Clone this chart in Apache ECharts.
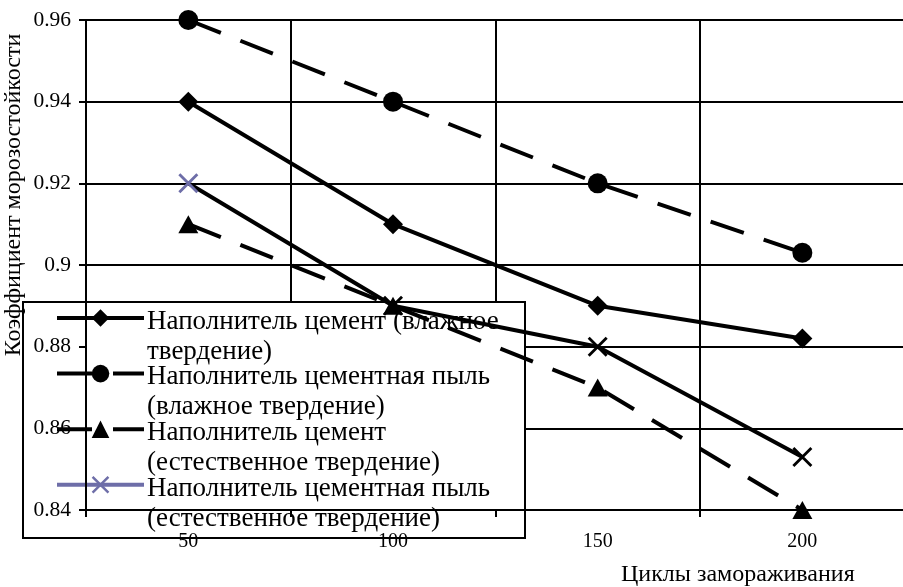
<!DOCTYPE html>
<html>
<head>
<meta charset="utf-8">
<script src="https://cdn.jsdelivr.net/npm/echarts@6/dist/echarts.min.js"></script>
<style>
  html, body { margin: 0; padding: 0; background: #fff; }
  #chart { width: 903px; height: 587px; }
</style>
</head>
<body>
<div id="chart"></div>
<script>
// Freeze-thaw cycles (category axis)
const cycles = ['50', '100', '150', '200'];

// Frost resistance coefficient per filler / curing mode
const cementWet = [0.94, 0.91, 0.89, 0.882];
const dustWet = [0.96, 0.94, 0.92, 0.903];
const cementNatural = [0.91, 0.89, 0.87, 0.84];
const dustNatural = [0.92, 0.89, 0.88, 0.853];

// Value axis range and step
const yMin = 0.84;
const yMax = 0.96;
const yStep = 0.02;

const seriesNames = [
  'Наполнитель цемент (влажное твердение)',
  'Наполнитель цементная пыль (влажное твердение)',
  'Наполнитель цемент (естественное твердение)',
  'Наполнитель цементная пыль (естественное твердение)'
];
// Legend captions wrapped on two lines
const legendLines = [
  ['Наполнитель цемент (влажное', 'твердение)'],
  ['Наполнитель цементная пыль', '(влажное твердение)'],
  ['Наполнитель цемент', '(естественное твердение)'],
  ['Наполнитель цементная пыль', '(естественное твердение)']
];

const FONT = '"Liberation Serif", "Times New Roman", serif';
const INK = '#000';
const VIOLET = '#6e6ea8';
const DASH = [35, 21];
const CROSS = 'path://M0,1L1,0L10,9L9,10Z M9,0L10,1L1,10L0,9Z';

const chart = echarts.init(document.getElementById('chart'), null, { renderer: 'canvas' });

const lineBase = {
  type: 'line',
  xAxisIndex: 0,
  yAxisIndex: 0,
  symbolSize: 20,
  z: 3,
  animation: false
};

const legendData = [
  { name: seriesNames[0] },
  { name: seriesNames[1] },
  { name: seriesNames[2] },
  { name: seriesNames[3], itemStyle: { color: VIOLET }, lineStyle: { color: VIOLET } }
];

// caption legends: one for each wrapped line, no icons
function captionLegend(lineIndex, top) {
  return {
    orient: 'vertical',
    left: 142,
    top: top,
    z: 2,
    selectedMode: false,
    padding: 0,
    itemWidth: 0,
    itemHeight: 0,
    itemGap: 25.6,
    itemStyle: { opacity: 0 },
    lineStyle: { opacity: 0, width: 0 },
    textStyle: { fontFamily: FONT, fontSize: 27, color: INK, lineHeight: 30 },
    formatter: function (name) {
      return legendLines[seriesNames.indexOf(name)][lineIndex];
    },
    data: seriesNames.slice()
  };
}

const option = {
  backgroundColor: '#fff',
  animation: false,
  grid: {
    left: 86,
    top: 20,
    width: 818.7,
    height: 490,
    containLabel: false,
    outerBoundsMode: 'none'
  },
  legend: [
    {
      // framed box with the line/marker samples
      orient: 'vertical',
      left: 23,
      top: 302,
      z: 1,
      selectedMode: false,
      backgroundColor: '#fff',
      borderColor: INK,
      borderWidth: 2,
      borderRadius: 0,
      padding: [7.2, 376, 44.4, 32],
      itemWidth: 87,
      itemHeight: 22,
      itemGap: 38,
      lineStyle: { width: 4 },
      textStyle: { fontSize: 1, lineHeight: 1 },
      formatter: function () { return ''; },
      data: legendData
    },
    captionLegend(0, 306.7),
    captionLegend(1, 336.7)
  ],
  xAxis: [
    {
      // grid lines only
      type: 'category',
      data: cycles,
      boundaryGap: true,
      z: 0,
      axisLine: { show: false },
      axisTick: { show: false },
      axisLabel: { show: false },
      splitLine: { show: true, interval: 0, lineStyle: { color: INK, width: 2 } }
    },
    {
      // axis line, ticks, labels and title drawn above the legend
      type: 'category',
      data: cycles,
      boundaryGap: true,
      position: 'bottom',
      z: 5,
      axisLine: { show: true, onZero: false, lineStyle: { color: INK, width: 2 } },
      axisTick: { show: true, interval: 0, length: 7, lineStyle: { color: INK, width: 2 } },
      axisLabel: { interval: 0, margin: 22, color: INK, fontSize: 20, fontFamily: FONT },
      splitLine: { show: false },
      name: 'Циклы замораживания',
      nameLocation: 'end',
      nameGap: -50,
      nameMoveOverlap: false,
      nameTextStyle: {
        fontFamily: FONT, fontSize: 24, color: INK,
        align: 'right', verticalAlign: 'top', padding: [53, 0, 0, 0]
      }
    }
  ],
  yAxis: [
    {
      type: 'value',
      min: yMin, max: yMax, interval: yStep,
      z: 0,
      axisLine: { show: false },
      axisTick: { show: false },
      axisLabel: { show: false },
      splitLine: { show: true, lineStyle: { color: INK, width: 2 } }
    },
    {
      type: 'value',
      min: yMin, max: yMax, interval: yStep,
      position: 'left',
      z: 5,
      axisLine: { show: true, onZero: false, lineStyle: { color: INK, width: 2 } },
      axisTick: { show: true, length: 7, lineStyle: { color: INK, width: 2 } },
      axisLabel: { margin: 15, color: INK, fontSize: 21.5, fontFamily: FONT },
      splitLine: { show: false },
      name: 'Коэффициент морозостойкости',
      nameLocation: 'middle',
      nameGap: 60,
      nameMoveOverlap: false,
      nameTextStyle: {
        fontFamily: FONT, fontSize: 24, color: INK,
        padding: [0, 0, 0, 140]
      }
    }
  ],
  series: [
    Object.assign({}, lineBase, {
      name: seriesNames[0],
      data: cementWet,
      symbol: 'diamond',
      itemStyle: { color: INK, borderWidth: 0 },
      lineStyle: { color: INK, width: 4, type: 'solid' }
    }),
    Object.assign({}, lineBase, {
      name: seriesNames[1],
      data: dustWet,
      symbol: 'circle',
      itemStyle: { color: INK, borderWidth: 0 },
      lineStyle: { color: INK, width: 4, type: DASH }
    }),
    Object.assign({}, lineBase, {
      name: seriesNames[2],
      data: cementNatural,
      symbol: 'triangle',
      symbolSize: [20, 18],
      itemStyle: { color: INK, borderWidth: 0 },
      lineStyle: { color: INK, width: 4, type: DASH }
    }),
    Object.assign({}, lineBase, {
      name: seriesNames[3],
      // first cross keeps the series violet, the rest are black
      data: dustNatural.map(function (v, i) {
        return i === 0 ? v : { value: v, itemStyle: { color: INK } };
      }),
      symbol: CROSS,
      itemStyle: { color: VIOLET, borderWidth: 0 },
      lineStyle: { color: INK, width: 4, type: 'solid' }
    })
  ]
};

chart.setOption(option);
</script>
</body>
</html>
